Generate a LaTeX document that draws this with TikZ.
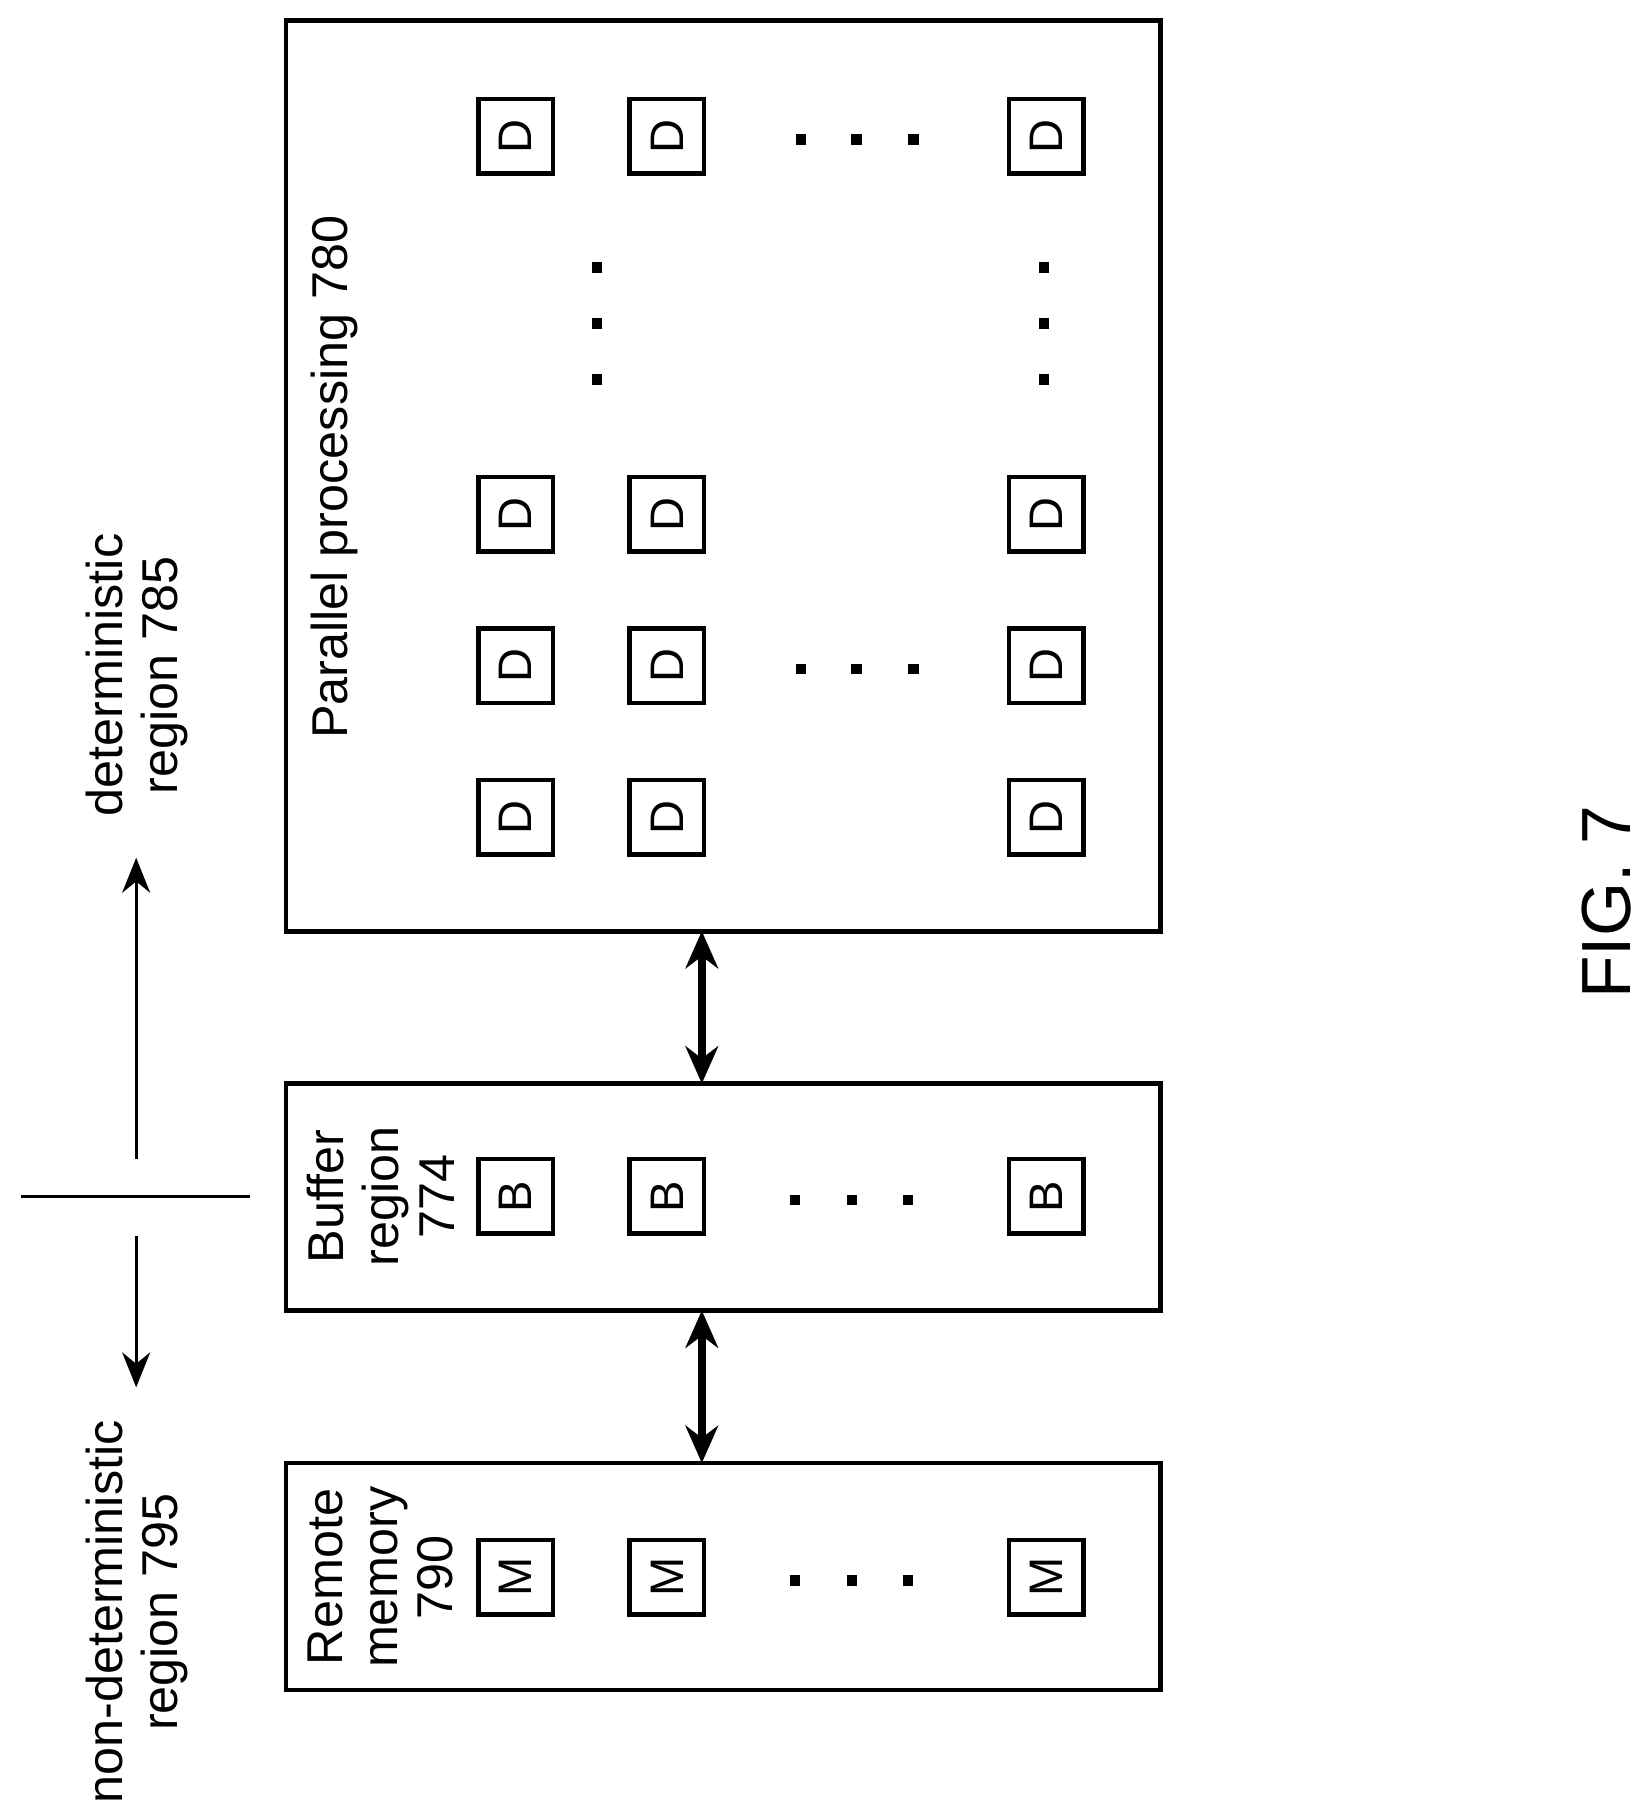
\documentclass[tikz,border=0pt]{standalone}
\usepackage{fontspec}
\setmainfont{Liberation Sans}
\usetikzlibrary{arrows.meta}
\begin{document}
\begin{tikzpicture}[x=0.01cm,y=-0.01cm,
  cell/.style={draw,line width=1.1pt,minimum size=0.64cm,inner sep=0pt,rotate=90,font=\fontsize{11.5}{11.5}\selectfont},
  region/.style={draw,line width=1.1pt,inner sep=0pt},
  lbl/.style={rotate=90,align=center,font=\fontsize{12.3}{13.5}\selectfont},
  dot/.style={fill,minimum size=0.09cm,inner sep=0pt}]
\useasboundingbox (0,0) rectangle (1410,1550);
% regions
\node[region,minimum width=7.51cm,minimum height=7.82cm] (par) at (621.5,409) {};
\node[region,minimum width=7.51cm,minimum height=1.95cm] (buf) at (621.5,1028.5) {};
\node[region,minimum width=7.51cm,minimum height=1.95cm] (rem) at (621.5,1354.5) {};
\node[lbl] (parl) at (287,410) {Parallel processing 780};
\node[lbl] (bufl) at (327,1028) {Buffer\\region\\774};
\node[lbl] (reml) at (327,1355) {Remote\\memory\\790};
% D cells
\foreach \r/\y in {1/117,2/442,3/572,4/702}
  \foreach \c/\x in {1/443,2/573,3/899}
    \node[cell] (d\r\c) at (\x,\y) {D};
\foreach \c/\x in {1/443,2/573,3/899} {
  \node[cell] (b\c) at (\x,1028) {B};
  \node[cell] (m\c) at (\x,1355) {M};
}
% dots
\foreach \x in {688,736,785} {
  \node[dot] at (\x,120) {};
  \node[dot] at (\x,575) {};
}
\foreach \x in {683,732,780} {
  \node[dot] at (\x,1031) {};
  \node[dot] at (\x,1358) {};
}
\foreach \y in {230,278,326} {
  \node[dot] at (513,\y) {};
  \node[dot] at (897,\y) {};
}
% connections
\draw[line width=2pt,{Stealth[length=0.32cm,width=0.28cm]}-{Stealth[length=0.32cm,width=0.28cm]}] (603,800) -- (603,931);
\draw[line width=2pt,{Stealth[length=0.32cm,width=0.28cm]}-{Stealth[length=0.32cm,width=0.28cm]}] (603,1126) -- (603,1257);
% boundary
\coordinate (sepl) at (18,1028);
\coordinate (sepr) at (215,1028);
\coordinate (upb) at (117,996);
\coordinate (upt) at (117,737);
\coordinate (dnt) at (117,1062);
\coordinate (dnb) at (117,1192);
\draw[line width=0.8pt] (sepl) -- (sepr);
\draw[line width=0.8pt,-{Stealth[length=0.3cm,width=0.24cm]}] (upb) -- (upt);
\draw[line width=0.8pt,-{Stealth[length=0.3cm,width=0.24cm]}] (dnt) -- (dnb);
\node[lbl] (det) at (118,580) {deterministic\\region 785};
\node[lbl] (ndet) at (118,1385) {non-deterministic\\region 795};
\node[rotate=90,font=\fontsize{17}{17}\selectfont] (fig) at (1380,775) {FIG. 7};
\end{tikzpicture}
\end{document}
